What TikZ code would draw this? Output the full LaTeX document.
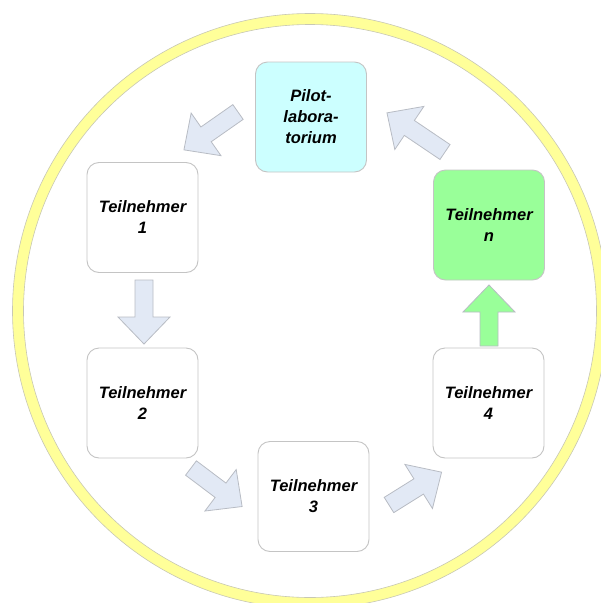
\documentclass[tikz,border=0pt]{standalone}
\usepackage{fontspec}
\setmainfont{Liberation Sans}
\definecolor{ringyellow}{HTML}{FFFF99}
\definecolor{ringedge}{HTML}{C8C8B4}
\definecolor{boxedge}{HTML}{C4C4C4}
\definecolor{pilotfill}{HTML}{CCFFFF}
\definecolor{greenfill}{HTML}{99FF99}
\definecolor{arrowfill}{HTML}{E2E9F5}
\definecolor{arrowedge}{HTML}{B8BCC4}
\tikzset{
  box/.style={draw=boxedge, line width=0.9pt, fill=white, rounded corners=12pt,
    minimum width=111pt, minimum height=110pt, align=center,
    font=\fontsize{16.5}{21}\selectfont\bfseries\itshape, text=black},
  blockarr/.style={draw=arrowedge, line width=0.8pt, fill=arrowfill, line join=miter},
}
\newcommand{\barrow}[4][]{%
  \filldraw[blockarr,#1,shift={#2},rotate=#3]
    (0,-9) -- (#4-27,-9) -- (#4-27,-26) -- (#4,0) -- (#4-27,26) -- (#4-27,9) -- (0,9) -- cycle;}
\begin{document}
\begin{tikzpicture}[x=1pt,y=-1pt]
\useasboundingbox (0,0) rectangle (601,603);
\begin{scope}
  \clip (0,0) rectangle (601,603);
  \draw[ringyellow, line width=11pt] (310,311) circle (292);
  \draw[ringedge, line width=0.6pt] (310,311) circle (297.5);
  \draw[ringedge, line width=0.6pt] (310,311) circle (286.5);
\end{scope}
\node[box, fill=pilotfill] (pilot) at (311,117) {Pilot-\\labora-\\torium};
\node[box] (t1) at (142.5,217.5) {Teilnehmer\\1};
\node[box] (t2) at (142.5,403) {Teilnehmer\\2};
\node[box] (t3) at (313.5,496.5) {Teilnehmer\\3};
\node[box] (t4) at (488.5,403) {Teilnehmer\\4};
\node[box, fill=greenfill] (tn) at (489,225) {Teilnehmer\\n};
\coordinate (a1) at (238,112);
\coordinate (a2) at (144,280);
\coordinate (a3) at (191,468);
\coordinate (a4) at (389,505);
\coordinate (a5) at (489,346);
\coordinate (a6) at (445,152);
\barrow{(a1)}{215}{66}
\barrow{(a2)}{-90}{64}
\barrow{(a3)}{-37}{64}
\barrow{(a4)}{32}{62}
\barrow[fill=greenfill]{(a5)}{90}{61}
\barrow{(a6)}{146}{70}
\end{tikzpicture}
\end{document}
